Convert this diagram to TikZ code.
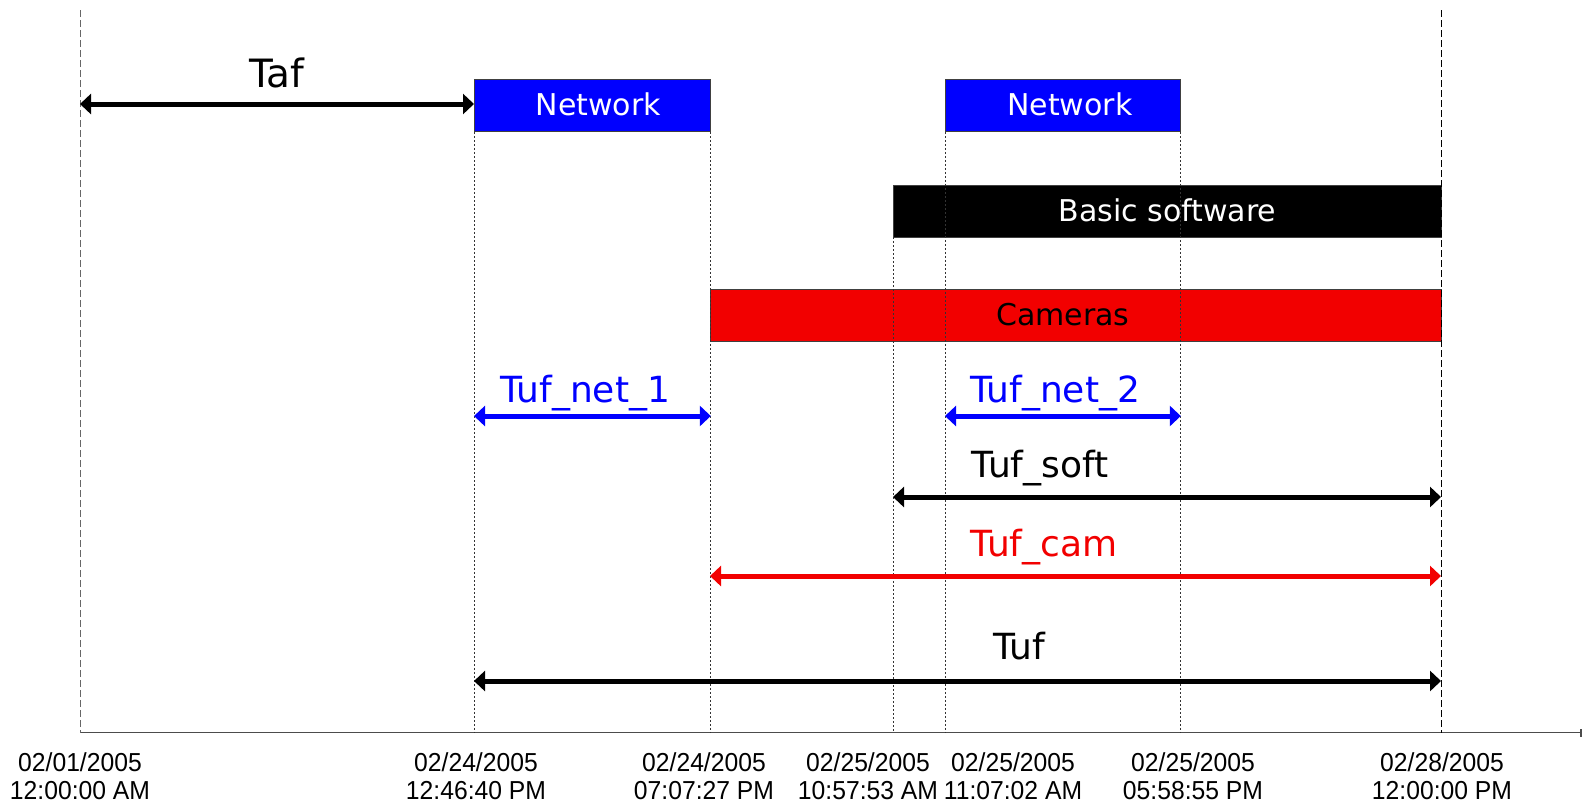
\documentclass[tikz,border=0pt]{standalone}
\usepackage{fontspec}
\setmainfont{DejaVu Sans}
\newfontfamily\axisfont[FakeStretch=0.95]{Liberation Sans}
\usetikzlibrary{arrows.meta}
\definecolor{camred}{RGB}{242,0,0}
\definecolor{netblue}{RGB}{0,0,255}
\begin{document}
\begin{tikzpicture}[x=1pt,y=-1pt,
  bar/.style={draw=black!75, line width=0.8pt, minimum height=52pt, inner sep=0pt, anchor=north west, font=\fontsize{30}{36}\selectfont},
  lbl/.style={inner sep=0pt, anchor=base, font=\fontsize{36}{42}\selectfont},
  dim/.style={line width=5pt, {Triangle[length=11pt,width=20pt]}-{Triangle[length=11pt,width=20pt]}},
  vdot/.style={black!80, line width=0.7pt, dash pattern=on 2pt off 2pt},
  vdash/.style={line width=0.8pt, dash pattern=on 7pt off 3pt},
  axisline/.style={black!70, line width=1.5pt},
  date/.style={align=center, inner sep=0pt, font=\axisfont\fontsize{26}{28.2}\selectfont}]
\useasboundingbox (0,0) rectangle (1582,807);

% axis
\coordinate (axL) at (80,732.5);
\coordinate (axR) at (1581,732.5);
\draw[axisline] (axL) -- (axR);
\draw[axisline] ([yshift=-4pt]axR) -- ([yshift=4pt]axR);

% boxes
\node[bar, fill=netblue, text=white, minimum width=236pt] (net1) at (474,79) {\raisebox{2pt}{\hspace*{12pt}Network}};
\node[bar, fill=netblue, text=white, minimum width=235pt] (net2) at (945,79) {\raisebox{2pt}{\hspace*{14pt}Network}};
\node[bar, fill=black, text=white, minimum width=548pt] (soft) at (893,184.5) {\raisebox{1pt}{Basic software}};
\node[bar, fill=camred, text=black, minimum width=731pt] (cam) at (710,288.5) {\raisebox{-2pt}{Cameras\hspace*{26pt}}};

% vertical guide lines
\coordinate (topL) at (80,10);
\coordinate (topR) at (1441,10);
\draw[vdash, black!60] (topL) -- (topL |- axL);
\draw[vdash] (topR) -- (topR |- axL);
\draw[vdot] (net1.south west) -- (net1.south west |- axL);
\draw[vdot] (net1.south east) -- (net1.south east |- axL);
\draw[vdot] (net2.south west) -- (net2.south west |- axL);
\draw[vdot] (net2.south east) -- (net2.south east |- axL);
\draw[vdot] (soft.south west) -- (soft.south west |- axL);

% Taf
\node[lbl, font=\fontsize{39}{45}\selectfont] (taf) at (277,87) {Taf};
\coordinate (tafA) at (80,104);
\draw[dim] (tafA) -- (tafA -| net1.west);

% Tuf_net_1
\node[lbl, text=netblue] (tn1) at (585,402.5) {Tuf\_net\_1};
\coordinate (tn1A) at (474,416);
\draw[dim, netblue] (tn1A) -- (tn1A -| net1.east);

% Tuf_net_2
\node[lbl, text=netblue] (tn2) at (1055,402.5) {Tuf\_net\_2};
\coordinate (tn2A) at (945,416);
\draw[dim, netblue] (tn2A) -- (tn2A -| net2.east);

% Tuf_soft
\node[lbl] (tsoft) at (1040,477) {Tuf\_soft};
\coordinate (tsA) at (893,497);
\draw[dim] (tsA) -- (tsA -| topR);

% Tuf_cam
\node[lbl, text=camred] (tcam) at (1044,556) {Tuf\_cam};
\coordinate (tcA) at (710,576);
\draw[dim, camred] (tcA) -- (tcA -| topR);

% Tuf
\node[lbl] (tuf) at (1019,659) {Tuf};
\coordinate (tufA) at (474,681);
\draw[dim] (tufA) -- (tufA -| topR);

% date labels
\node[date] (d1) at (80,776) {02/01/2005\\12:00:00 AM};
\node[date] (d2) at (476,776) {02/24/2005\\12:46:40 PM};
\node[date] (d3) at (704,776) {02/24/2005\\07:07:27 PM};
\node[date] (d4) at (868,776) {02/25/2005\\10:57:53 AM};
\node[date] (d5) at (1013,776) {02/25/2005\\11:07:02 AM};
\node[date] (d6) at (1193,776) {02/25/2005\\05:58:55 PM};
\node[date] (d7) at (1442,776) {02/28/2005\\12:00:00 PM};
\end{tikzpicture}
\end{document}
